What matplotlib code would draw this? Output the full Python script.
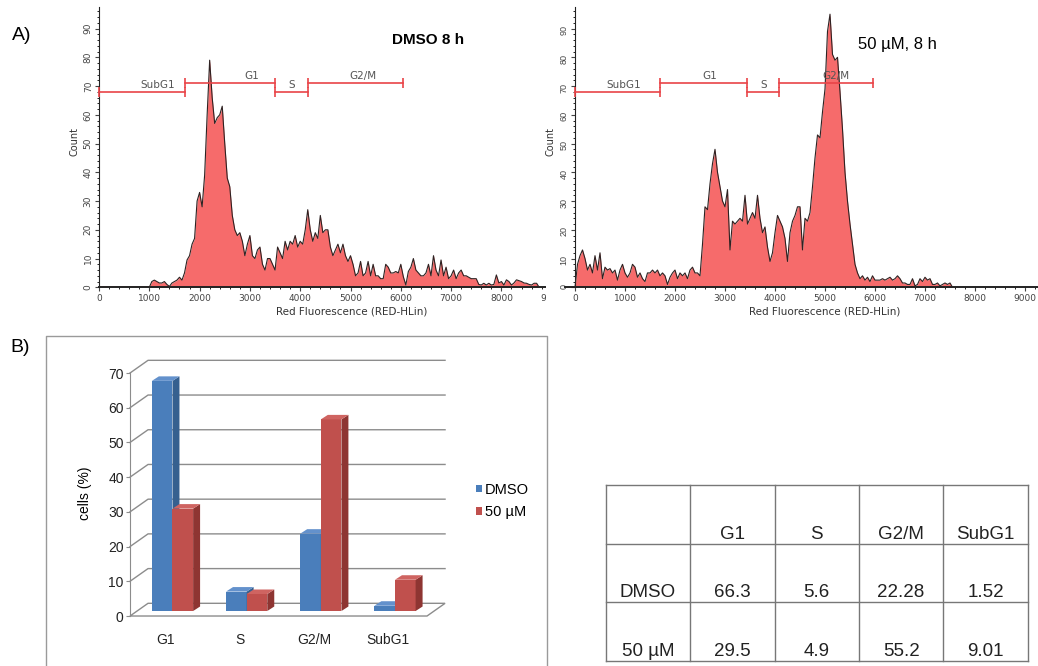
import numpy as np
import matplotlib.pyplot as plt
from matplotlib.patches import Polygon, Rectangle, Patch
from matplotlib.lines import Line2D
from matplotlib.ticker import MultipleLocator, FixedLocator

plt.rcParams['font.family'] = ['Liberation Sans', 'DejaVu Sans']

W, H = 1038, 666

# DNA content histograms, counts per 50-channel bin of RED-HLin
bin_width = 50
dmso_counts = [
    0, 0, 0, 0, 0, 0, 0, 0, 0, 0,
    0, 0, 0, 0, 0, 0, 0, 0, 0, 0,
    0, 2, 2.5, 2, 1.5, 1.5, 2, 1, 0.3, 1.5,
    2, 2.5, 3.5, 2.5, 5, 9.5, 11, 15, 17, 30,
    33, 28, 39, 60, 79, 66, 57, 59, 60, 63,
    50, 38, 35, 25, 20, 18, 19, 16, 11, 15,
    18, 11, 10, 13, 14, 8, 6, 10, 10, 8,
    6, 14, 12, 10, 16, 13, 16, 15, 18, 14,
    16, 15, 20, 27, 20, 16, 19, 17, 25, 19,
    20, 20, 14, 11, 13, 15, 12, 15, 11, 9,
    11, 8, 4, 5, 9, 4, 5, 9, 4, 8,
    4, 4, 3, 3, 8, 7, 5, 5, 5.5, 5,
    8, 3.7, 0.8, 5.5, 7, 10, 6, 5, 4, 4,
    5, 8, 4, 11, 6, 4, 9.5, 4, 7, 3,
    4, 6, 3, 5, 6, 4, 4, 3.5, 3, 3,
    3, 1, 0.8, 1.4, 0.8, 1.4, 0.8, 1, 4.3, 1.5,
    2, 0.8, 2.6, 2, 0.8, 1.5, 2.6, 2.3, 2, 1.5,
    1.4, 1, 0.8, 1.4, 1.4, 0,
]
treated_counts = [
    0, 8, 11, 13, 10, 6, 8, 5, 11, 6,
    12, 3, 7, 6, 6.5, 5, 6, 2.5, 6, 8,
    5, 3.5, 5, 8, 7, 3.5, 5, 3, 2, 5,
    5, 6, 5, 6, 4, 5, 4, 1, 3.5, 5,
    6, 3, 5, 4, 5, 3, 6, 7, 5, 5,
    4, 15, 28, 27, 36, 43, 48, 40, 35, 30,
    28, 34, 13, 23, 22, 23, 24, 23, 32, 22,
    24, 26, 24, 32, 24, 19, 21, 14, 9, 12,
    19, 25, 23, 21, 17, 9, 19, 23, 25, 28,
    28, 13, 24, 23, 26, 35, 45, 53, 52, 61,
    69, 89, 95, 81, 79, 80, 68, 55, 40, 30,
    22, 15, 8, 5, 3, 4, 2.5, 3.5, 2, 4,
    2.5, 2.5, 2.5, 3, 2.5, 3, 3.5, 2.5, 3, 4,
    3, 1.5, 1.5, 1, 1, 3, 0.5, 1, 3, 2,
    3.5, 2.5, 3, 1, 1, 1.5, 0.5, 1, 1.5, 1,
    1.5, 0,
]

# gates: name, start channel, end channel, marker level
dmso_gates = [('SubG1', 0, 1700, 68), ('G1', 1700, 3500, 71),
              ('S', 3500, 4150, 68), ('G2/M', 4150, 6050, 71)]
treated_gates = [('SubG1', 0, 1700, 68), ('G1', 1700, 3430, 71),
                 ('S', 3430, 4080, 68), ('G2/M', 4080, 5950, 71)]
dmso_gate_label_x = [1170, 3040, 3840, 5240]
treated_gate_label_x = [980, 2690, 3770, 5220]

# cell cycle distribution (%)
phases = ['G1', 'S', 'G2/M', 'SubG1']
dmso_pct = [66.3, 5.6, 22.28, 1.52]
treated_pct = [29.5, 4.9, 55.2, 9.01]
series_names = ['DMSO', '50 µM']

fig = plt.figure(figsize=(W / 100, H / 100), dpi=100)


def px_axes(left, top, right, bottom):
    return fig.add_axes([left / W, 1 - bottom / H, (right - left) / W, (bottom - top) / H])


hist_font = 'DejaVu Sans'


def draw_histogram(ax, counts, gates, label_x):
    chan = np.arange(len(counts)) * bin_width
    ax.fill_between(chan, counts, 0, color='#f66b6b', lw=0, zorder=2)
    ax.plot(chan, counts, color='#2e2222', lw=0.8, zorder=3)
    for (name, start, end, level), lx in zip(gates, label_x):
        ax.plot([start, end], [level, level], color='#e94448', lw=1.2,
                marker='|', ms=7, mew=1.2, zorder=4, clip_on=False)
        ax.text(lx, level + 0.8, name, ha='center', va='bottom', fontsize=7.5,
                color='#555555', family=hist_font, zorder=5)
    ax.set_ylim(0, 97.5)
    ax.set_xticks(range(0, 9001, 1000))
    ax.xaxis.set_minor_locator(FixedLocator(range(0, 9201, 200)))
    ax.set_yticks(range(0, 91, 10))
    ax.yaxis.set_minor_locator(MultipleLocator(2))
    ax.tick_params(labelsize=6.5, colors='#444444', length=3, width=0.8, pad=1.5)
    ax.tick_params(which='minor', length=1.5, width=0.6)
    ax.tick_params(axis='y', labelrotation=90)
    for lbl in ax.get_yticklabels():
        lbl.set_va('center')
    for lbl in ax.get_xticklabels() + ax.get_yticklabels():
        lbl.set_family(hist_font)
    for side in ('top', 'right'):
        ax.spines[side].set_visible(False)
    ax.spines['bottom'].set_linewidth(1.4)
    for side in ('bottom', 'left'):
        ax.spines[side].set_color('#222222')


# A) histograms
ax1 = px_axes(99, 7, 551.7, 287.3)
ax1.set_xlim(0, 9000)
draw_histogram(ax1, dmso_counts, dmso_gates, dmso_gate_label_x)
ax1.set_zorder(1)

# the left panel is cut off just past 8800
fig.add_artist(Rectangle((546 / W, 1 - 310 / H), 19 / W, 303 / H, transform=fig.transFigure,
                         facecolor='white', edgecolor='none', zorder=2))

ax2 = px_axes(565, 7, 1038, 287.3)
ax2.set_xlim(-200, 9260)
draw_histogram(ax2, treated_counts, treated_gates, treated_gate_label_x)
ax2.spines['left'].set_position(('data', 0))
ax2.set_zorder(3)

fig.text(428 / W, 1 - 40 / H, 'DMSO 8 h', fontsize=11, fontweight='bold', ha='center', va='center')
fig.text(897 / W, 1 - 45 / H, '50 µM, 8 h', fontsize=12, ha='center', va='center')
for x in (75, 550):
    fig.text(x / W, 1 - 142 / H, 'Count', rotation=90, fontsize=7, family=hist_font,
             color='#333333', ha='center', va='center')
for x in (352, 825):
    fig.text(x / W, 1 - 312 / H, 'Red Fluorescence (RED-HLin)', fontsize=7.5, family=hist_font,
             color='#333333', ha='center', va='center')

# B) 3-D style column chart
ax3 = px_axes(109.9, 352.2, 469.6, 629.9)
ax3.set_xlim(-0.75, 4.1)
ax3.set_ylim(-4, 76)
ax3.patch.set_visible(False)

wall_x0, wall_x1 = -0.479, 3.526
deep_x, deep_y = 0.243, 3.66
bar_w = 0.278
bar_dx, bar_dy = 0.094, 1.3
base_x, base_y = 0.094, 1.44
grid_c = '#8c8c8c'

ax3.add_patch(Polygon([(wall_x0, 0), (wall_x1, 0), (wall_x1 + deep_x, deep_y),
                       (wall_x0 + deep_x, deep_y)], closed=True, facecolor='white',
                      edgecolor=grid_c, lw=1, zorder=1))
for v in range(10, 71, 10):
    ax3.plot([wall_x0, wall_x0 + deep_x, wall_x1 + deep_x], [v, v + deep_y, v + deep_y],
             color=grid_c, lw=1, zorder=1)

fronts = ['#4a7ebb', '#c0504d']
sides = ['#36608f', '#8e3532']
tops = ['#6391cc', '#cf6461']
for s, vals in enumerate([dmso_pct, treated_pct]):
    xs = np.arange(len(phases)) + base_x - bar_w + s * bar_w
    ax3.bar(xs, vals, width=bar_w, bottom=base_y, align='edge', color=fronts[s], lw=0, zorder=2 + s)
    for x0, v in zip(xs, vals):
        x1 = x0 + bar_w
        y1 = base_y + v
        ax3.add_patch(Polygon([(x1, base_y), (x1, y1), (x1 + bar_dx, y1 + bar_dy),
                               (x1 + bar_dx, base_y + bar_dy)], facecolor=sides[s], lw=0, zorder=2 + s))
        ax3.add_patch(Polygon([(x0, y1), (x1, y1), (x1 + bar_dx, y1 + bar_dy),
                               (x0 + bar_dx, y1 + bar_dy)], facecolor=tops[s], lw=0, zorder=2 + s))

for side in ('top', 'right', 'bottom'):
    ax3.spines[side].set_visible(False)
ax3.spines['left'].set_position(('data', wall_x0))
ax3.spines['left'].set_bounds(0, 70)
ax3.spines['left'].set_color(grid_c)
ax3.set_yticks(range(0, 71, 10))
ax3.tick_params(axis='y', length=3, color=grid_c, labelsize=10, labelcolor='#222222', pad=1.5)
ax3.set_xticks(range(len(phases)))
ax3.set_xticklabels(phases)
ax3.tick_params(axis='x', length=0, labelsize=10, labelcolor='#222222', pad=2)

fig.text(85 / W, 1 - 493 / H, 'cells (%)', rotation=90, fontsize=10, ha='center', va='center')
fig.legend(handles=[Patch(facecolor=fronts[0]), Patch(facecolor=fronts[1])], labels=series_names,
           loc='center left', bbox_to_anchor=(476 / W, 1 - 501 / H), frameon=False, fontsize=10.5,
           handlelength=0.4, handleheight=0.4, handletextpad=0.2, labelspacing=0.6,
           borderpad=0, borderaxespad=0)

fig.add_artist(Line2D([46 / W, 46 / W, 547 / W, 547 / W], [0, 1 - 336 / H, 1 - 336 / H, 0],
                      transform=fig.transFigure, color='#9a9a9a', lw=1))

# table of the same percentages
ax4 = px_axes(605.7, 485, 1027.7, 661)
ax4.set_xlim(0, 5)
ax4.set_ylim(3, 0)
ax4.axis('off')
for c in range(6):
    ax4.plot([c, c], [0, 3], color='#777777', lw=1, clip_on=False)
for r in range(4):
    ax4.plot([0, 5], [r, r], color='#777777', lw=1, clip_on=False)
for c, name in enumerate(phases):
    ax4.text(c + 1.5, 0.92, name, ha='center', va='baseline', fontsize=13.5, color='#222222')
for r, (name, vals) in enumerate(zip(series_names, [dmso_pct, treated_pct]), start=1):
    ax4.text(0.5, r + 0.91, name, ha='center', va='baseline', fontsize=13.5, color='#222222')
    for c, v in enumerate(vals):
        ax4.text(c + 1.5, r + 0.91, f'{v:g}', ha='center', va='baseline', fontsize=13.5, color='#222222')

fig.text(12 / W, 1 - 35 / H, 'A)', fontsize=14, va='center')
fig.text(10 / W, 1 - 347 / H, 'B)', fontsize=14, va='center')

fig.savefig('out.png', dpi=100)
